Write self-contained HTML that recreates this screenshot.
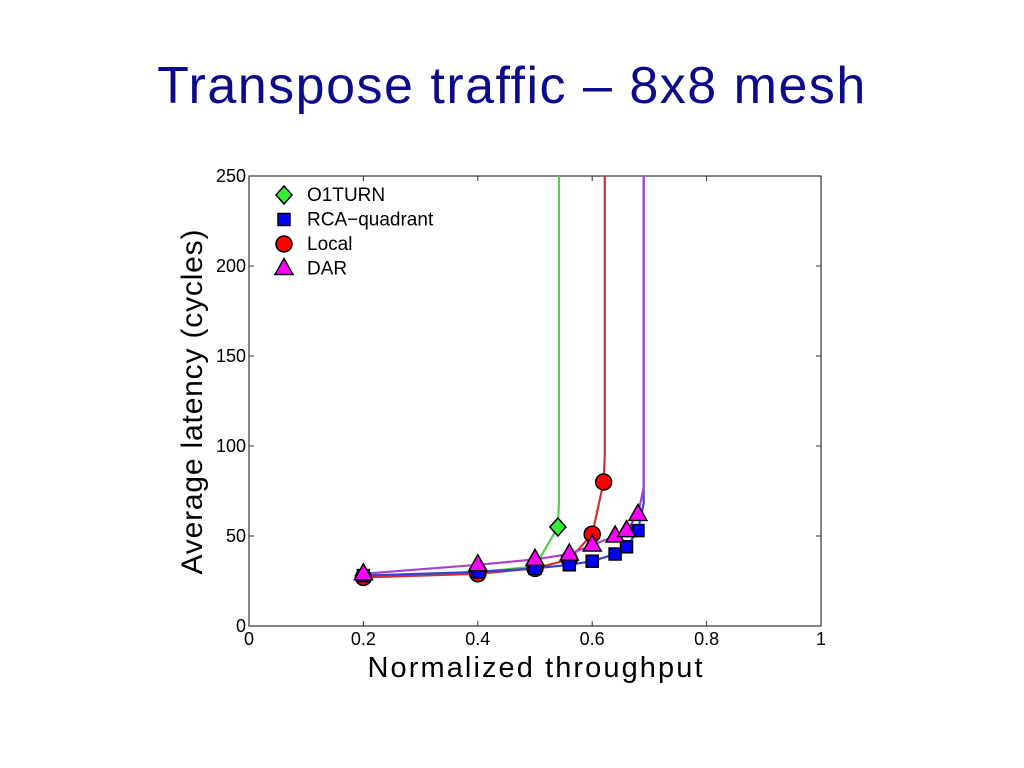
<!DOCTYPE html>
<html><head><meta charset="utf-8"><style>
body{margin:0;background:#fff;width:1024px;height:768px;overflow:hidden;font-family:"Liberation Sans",sans-serif}
#title{position:absolute;left:0;width:1024px;top:60px;text-align:center;font-size:52px;letter-spacing:1.5px;color:#0c0c8a;line-height:1}
</style></head><body>
<div id="title">Transpose traffic – 8x8 mesh</div>
<svg id="chart" width="1024" height="768" style="position:absolute;left:0;top:0"></svg>
<script>
const xTicks=[0,0.2,0.4,0.6,0.8,1];
const xTickLabels=["0","0.2","0.4","0.6","0.8","1"];
const yTicks=[0,50,100,150,200,250];
const yTickLabels=["0","50","100","150","200","250"];
const seriesNames=["O1TURN","RCA\u2212quadrant","Local","DAR"];
const o1turnX=[0.2,0.4,0.5,0.54];
const o1turnY=[28,30,33,55];
const rcaX=[0.2,0.4,0.5,0.56,0.6,0.64,0.66,0.68];
const rcaY=[28,30,32,34,36,40,44,53];
const localX=[0.2,0.4,0.5,0.56,0.6,0.62];
const localY=[27,29,32,37,51,80];
const darX=[0.2,0.4,0.5,0.56,0.6,0.64,0.66,0.68];
const darY=[29,34,37,40,45,50,53,62];
const saturation=[0.542,0.69,0.622,0.69];

const NS="http://www.w3.org/2000/svg";
const svg=document.getElementById('chart');
const L=249,R=821,T=176,B=626;
const xs=v=>L+v*(R-L), ys=v=>B-v/250*(B-T);
function mk(t,a,p){const e=document.createElementNS(NS,t);for(const k in a)e.setAttribute(k,a[k]);(p||svg).appendChild(e);return e;}
const frame=mk('rect',{x:L,y:T,width:R-L,height:B-T,fill:'#fff',stroke:'#333','stroke-width':1.2});


xTicks.forEach((v,i)=>{
  mk('line',{x1:xs(v),x2:xs(v),y1:B,y2:B-5,stroke:'#333'});mk('line',{x1:xs(v),x2:xs(v),y1:T,y2:T+5,stroke:'#333'});
  const t=mk('text',{x:xs(v),y:B+19,'text-anchor':'middle','font-size':18,fill:'#000'});t.textContent=xTickLabels[i];
  
  
});
yTicks.forEach((v,i)=>{
  mk('line',{x1:L,x2:L+5,y1:ys(v),y2:ys(v),stroke:'#333'});mk('line',{x1:R,x2:R-5,y1:ys(v),y2:ys(v),stroke:'#333'});
  const t=mk('text',{x:L-3,y:ys(v)+6,'text-anchor':'end','font-size':18,fill:'#000'});t.textContent=yTickLabels[i];
  
  
});
const xt=mk('text',{x:535,y:677,'text-anchor':'middle','font-size':29,'textLength':335,fill:'#000'});xt.textContent='Normalized throughput';


const yt=mk('text',{x:0,y:0,'text-anchor':'middle','font-size':30,'textLength':345,fill:'#000',transform:'translate(202,402) rotate(-90)'});yt.textContent='Average latency (cycles)';



const styles=[{c:'#33ee33',l:'#55cc55',m:'diamond'},{c:'#0000ff',l:'#3344dd',m:'square'},{c:'#ff0000',l:'#cc3333',m:'circle'},{c:'#ff00ff',l:'#aa44cc',m:'triangle'}];
const X=[o1turnX,rcaX,localX,darX],Y=[o1turnY,rcaY,localY,darY];
function marker(m,x,y,c,g){
  let e;
  if(m==='diamond')e=mk('polygon',{points:`${x},${y-9} ${x+8},${y} ${x},${y+9} ${x-8},${y}`},g);
  else if(m==='square')e=mk('rect',{x:x-6,y:y-6,width:12,height:12},g);
  else if(m==='circle')e=mk('circle',{cx:x,cy:y,r:8},g);
  else e=mk('polygon',{points:`${x},${y-10} ${x+9},${y+6} ${x-9},${y+6}`},g);
  e.setAttribute('fill',c);e.setAttribute('stroke','#000');e.setAttribute('stroke-width',1.5);return e;
}
const order=[0,2,1,3];
order.forEach(s=>{
  const g=mk('g',{});
  
  
  let pts=X[s].map((v,i)=>xs(v)+','+ys(Y[s][i]));
  pts.push(xs(saturation[s])+','+ys(Y[s][Y[s].length-1]+15));
  pts.push(xs(saturation[s])+','+ys(250));
  mk('polyline',{points:pts.join(' '),fill:'none',stroke:styles[s].l,'stroke-width':2.2},g);
});
order.forEach(s=>{
  X[s].forEach((v,i)=>{
    const e=marker(styles[s].m,xs(v),ys(Y[s][i]),styles[s].c);
    
    
  });
});
seriesNames.forEach((n,i)=>{
  const g=mk('g',{});
  
  
  const y=195+i*24.5;
  marker(styles[i].m,284,y,styles[i].c,g);
  const t=mk('text',{x:307,y:y+6,'font-size':19,fill:'#000'},g);t.textContent=n;
});
</script>
</body></html>
